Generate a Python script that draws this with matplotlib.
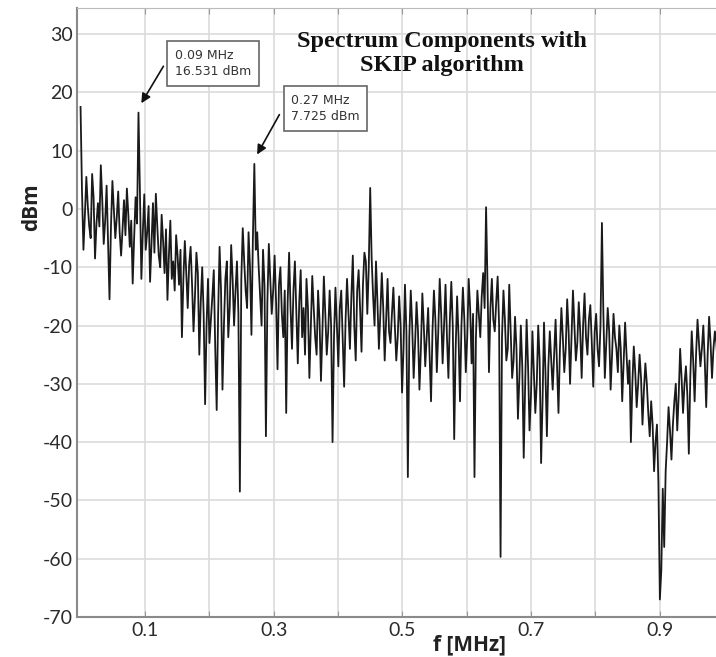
import numpy as np
import matplotlib
matplotlib.use('Agg')
import matplotlib.pyplot as plt

plt.rcParams['axes.unicode_minus'] = False

# frequency grid step (MHz) and spectrum values
freq_step = 0.00225
dbm = [
    17.5, 3.0, -7.0, -1.0, 5.5, 0.5, -3.0, -5.0, 6.0, 2.0,
    -8.5, -2.5, 1.0, -3.0, 7.5, 1.5, -6.0, -2.0, 4.0, -6.0,
    -15.5, -3.0, 4.8, 0.0, -5.0, -1.5, 3.0, -4.0, -8.0, -3.5,
    1.5, -4.5, 3.5, -1.0, -6.5, -2.0, -12.8, -5.0, 2.0, -2.5,
    16.531, 3.0, -12.0, -4.0, 2.5, -7.0, -4.0, 0.5, -12.5, -6.0,
    1.0, -7.5, 2.6, -3.0, -8.0, -10.0, -1.0, -5.5, -11.0, -3.5,
    -15.6, -8.0, -2.0, -12.0, -9.0, -14.0, -4.5, -8.0, -13.0, -7.0,
    -22.0, -12.0, -5.5, -11.0, -17.0, -9.5, -6.5, -13.0, -21.0, -15.0,
    -7.5, -11.0, -25.0, -16.0, -10.0, -18.0, -33.5, -20.0, -12.0, -23.0,
    -19.0, -15.0, -10.5, -24.0, -34.5, -18.0, -6.5, -14.0, -31.0, -20.0,
    -12.0, -9.0, -22.0, -17.0, -6.2, -12.0, -20.0, -14.0, -9.0, -18.0,
    -48.5, -12.0, -3.3, -9.0, -14.0, -17.0, -4.0, -10.0, -21.6, -5.0,
    7.725, -7.0, -4.0, -10.0, -15.0, -20.0, -7.0, -13.0, -39.0, -16.0,
    -6.0, -12.0, -18.0, -14.0, -8.0, -16.0, -27.5, -13.0, -10.0, -18.0,
    -22.0, -14.0, -35.0, -16.0, -7.5, -17.0, -24.0, -14.0, -9.0, -18.0,
    -26.5, -16.0, -10.5, -22.0, -17.0, -25.0, -12.0, -17.0, -29.0, -20.0,
    -11.5, -17.0, -22.0, -25.0, -14.0, -19.0, -29.5, -21.0, -11.6, -18.0,
    -25.0, -21.0, -14.0, -20.0, -40.0, -22.0, -13.5, -20.0, -27.0, -17.0,
    -14.0, -22.0, -30.5, -19.0, -12.0, -18.0, -24.0, -15.0, -8.0, -20.0,
    -26.0, -14.0, -10.5, -17.0, -24.5, -13.0, -7.5, -9.0, -18.0, -10.0,
    3.6, -8.5, -15.0, -20.0, -9.0, -16.0, -24.0, -18.0, -11.0, -17.0,
    -26.0, -19.0, -12.0, -21.0, -23.0, -18.0, -13.5, -20.0, -26.0, -22.0,
    -15.0, -20.0, -31.5, -24.0, -13.0, -21.0, -46.0, -22.0, -14.0, -20.0,
    -29.0, -23.0, -16.0, -21.0, -31.0, -24.0, -14.5, -20.0, -27.0, -22.0,
    -17.0, -25.0, -33.0, -21.0, -14.0, -19.0, -28.0, -21.0, -12.0, -18.0,
    -26.5, -20.0, -13.0, -22.0, -29.0, -19.0, -12.5, -20.0, -39.5, -24.0,
    -15.0, -22.0, -33.0, -20.0, -13.5, -19.0, -28.0, -22.0, -12.0, -17.0,
    -26.5, -18.0, -46.0, -22.0, -14.0, -18.0, -22.0, -15.0, -11.0, -17.0,
    0.3, -13.0, -28.0, -17.0, -12.0, -19.0, -21.0, -16.0, -11.6, -20.0,
    -59.7, -22.0, -14.0, -19.0, -26.0, -24.0, -13.0, -21.0, -29.0, -26.0,
    -18.5, -24.0, -36.0, -29.0, -20.0, -27.0, -42.7, -30.0, -19.0, -27.0,
    -38.0, -32.0, -21.0, -28.0, -35.0, -30.0, -20.0, -26.0, -43.6, -33.0,
    -19.5, -28.0, -39.0, -27.0, -21.0, -26.0, -31.0, -25.0, -19.0, -27.0,
    -35.0, -24.0, -17.0, -22.0, -28.0, -24.0, -15.5, -21.0, -30.0, -22.0,
    -14.0, -20.0, -26.0, -23.0, -16.0, -21.0, -29.0, -20.0, -14.5, -22.0,
    -25.0, -19.0, -16.5, -23.0, -30.5, -21.0, -18.0, -24.0, -27.0, -20.0,
    -2.4, -18.0, -29.0, -23.0, -17.0, -21.0, -31.0, -25.0, -18.0, -22.0,
    -24.0, -28.0, -20.0, -24.0, -33.0, -26.0, -19.5, -25.0, -30.0, -26.0,
    -40.0, -30.0, -23.6, -28.0, -34.0, -30.0, -25.0, -29.0, -37.0, -31.0,
    -26.5, -30.0, -35.0, -39.0, -33.0, -37.0, -45.0, -40.0, -37.0, -47.0,
    -67.0, -62.0, -48.0, -58.0, -45.0, -40.0, -34.0, -38.0, -43.0, -37.0,
    -33.0, -30.0, -38.0, -32.0, -24.0, -29.0, -35.0, -30.0, -27.0, -32.0,
    -42.0, -29.0, -21.0, -26.0, -33.0, -25.0, -19.0, -23.0, -27.0, -24.0,
    -20.0, -26.0, -34.0, -25.0, -18.5, -23.0, -29.0, -24.0, -21.0, -23.0,
    -27.0,
]
freq = np.arange(len(dbm)) * freq_step

peak_labels = ['0.09 MHz\n16.531 dBm', '0.27 MHz\n7.725 dBm']
peak_freqs = [0.09, 0.27]
peak_vals = [16.531, 7.725]

fig = plt.figure(figsize=(7.16, 6.57), dpi=100)
ax = fig.add_axes([0.108, 0.061, 0.899, 0.927])

ax.plot(freq, dbm, color='#1a1a1a', linewidth=1.3)

ax.set_xlim(-0.005, 0.995)
ax.set_ylim(-70, 34.5)

ax.set_xticks(np.arange(0.1, 1.0, 0.1))
ax.set_xticklabels(['0.1', '', '0.3', '', '0.5', '', '0.7', '', '0.9'])
ax.set_yticks(np.arange(-70, 31, 10))
ax.grid(True, color='#dcdcdc', linewidth=1.2)
ax.set_axisbelow(True)

for lab in ax.get_xticklabels() + ax.get_yticklabels():
    lab.set_fontfamily('Lato')
    lab.set_fontsize(14)
    lab.set_color('#2b2b2b')
ax.tick_params(axis='both', direction='in', length=4, color='#999999',
               top=True, pad=4)
ax.tick_params(axis='y', length=0, pad=3)

for side in ['left', 'bottom']:
    ax.spines[side].set_color('#8a8a8a')
    ax.spines[side].set_linewidth(1.5)
ax.spines['top'].set_color('#bbbbbb')
ax.spines['right'].set_visible(False)

fig.text(470 / 716, 1 - 645 / 657, 'f [MHz]', ha='center', va='center',
         fontsize=15, fontweight='bold', family='Open Sans', color='#222222')
fig.text(32 / 716, 1 - 207 / 657, 'dBm', ha='center', va='center',
         rotation=90, fontsize=15, fontweight='bold', family='Open Sans',
         color='#222222')

ax.text(0.561, 26.7, 'Spectrum Components with\nSKIP algorithm',
        ha='center', va='center', fontsize=17.5, fontweight='bold',
        family='Liberation Serif', linespacing=1.2, color='#111111')

# callouts for the two marked components
box_pos = [(0.1466, 25.0), (0.327, 17.2)]
arrow_tails = [(0.131, 24.9), (0.311, 16.6)]
for lab, (bx, by), (tx, ty), pf, pv in zip(peak_labels, box_pos, arrow_tails,
                                           peak_freqs, peak_vals):
    ax.text(bx, by, lab, ha='left', va='center', fontsize=9,
            family='DejaVu Sans', color='#333333', linespacing=1.35,
            bbox=dict(boxstyle='square,pad=0.6', facecolor='white',
                      edgecolor='#666666', linewidth=1.2))
    ax.annotate('', xy=(pf + 0.0022, pv + 1.2), xytext=(tx, ty),
                arrowprops=dict(arrowstyle='-|>', color='#111111', lw=1.2,
                                mutation_scale=14))

fig.savefig('out.png', dpi=100)
